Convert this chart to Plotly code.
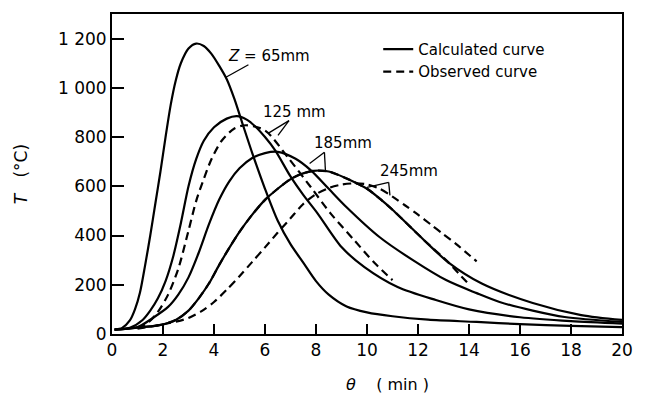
import plotly.graph_objects as go

# ---- data ----
z65_x = [0.1, 0.4, 0.7, 0.9, 1.1, 1.3, 1.5, 1.7, 1.9, 2.1, 2.3, 2.5, 2.7, 3.0, 3.3, 3.6, 3.9, 4.2, 4.5, 4.8, 5.1, 5.5, 6.0, 6.5, 7.0, 7.5, 8.0, 8.5, 9.2, 10.0, 11.0, 12.4, 14.3, 16.0, 18.0, 20.0]
z65_y = [18, 25, 55, 100, 170, 280, 400, 530, 660, 800, 930, 1030, 1100, 1160, 1180, 1170, 1138, 1090, 1035, 955, 860, 735, 590, 460, 365, 290, 215, 160, 112, 88, 72, 58, 49, 40, 33, 28]

c125_x = [0.1, 0.7, 1.2, 1.5, 1.8, 2.1, 2.4, 2.7, 3.0, 3.3, 3.6, 4.0, 4.5, 4.9, 5.3, 5.6, 6.0, 6.4, 7.0, 7.5, 8.06, 9.0, 9.9, 11.2, 12.7, 14.0, 16.0, 18.0, 20.0]
c125_y = [18, 25, 57, 95, 145, 215, 315, 450, 600, 710, 785, 840, 875, 885, 870, 845, 800, 746, 640, 565, 490, 353, 272, 191, 138, 100, 68, 52, 42]

o125_x = [1.0, 1.4, 1.8, 2.2, 2.6, 3.0, 3.3, 3.6, 3.9, 4.3, 4.8, 5.25, 6.0, 6.9, 7.8, 8.57, 9.5, 10.3, 11.0]
o125_y = [25, 45, 90, 160, 265, 420, 540, 630, 710, 785, 835, 848, 827, 717, 596, 490, 381, 288, 219]

c185_x = [0.1, 1.0, 1.6, 2.2, 2.6, 3.0, 3.4, 3.8, 4.2, 4.6, 5.0, 5.5, 6.0, 6.5, 7.2, 7.8, 8.5, 9.2, 10.5, 11.8, 13.1, 14.3, 15.2, 16.5, 17.75, 20.0]
c185_y = [18, 28, 65, 110, 160, 230, 330, 445, 545, 620, 673, 715, 735, 740, 712, 665, 590, 515, 393, 300, 219, 166, 130, 95, 69, 49]

c245_x = [0.1, 1.2, 1.86, 2.5, 3.0, 3.4, 3.8, 4.2, 4.6, 5.0, 5.5, 6.0, 6.5, 6.9, 7.3, 7.9, 8.5, 9.2, 10.0, 10.5, 11.0, 11.5, 12.2, 13.2, 14.5, 16.5, 18.4, 20.0]
c245_y = [18, 28, 36, 57, 95, 145, 205, 280, 350, 415, 485, 545, 590, 622, 645, 663, 660, 632, 590, 550, 505, 455, 385, 290, 205, 126, 77, 57]

o185_x = [1.2, 1.86, 2.5, 3.0, 3.4, 3.8, 4.2, 4.6, 5.0, 5.5, 6.0, 6.5, 6.9, 7.3, 7.9, 8.5, 9.2, 10.0, 10.5, 11.0, 11.5, 12.2, 13.2, 13.6, 13.95]
o185_y = [28, 36, 57, 95, 145, 205, 280, 350, 415, 485, 545, 590, 622, 645, 663, 660, 632, 590, 550, 505, 455, 385, 290, 245, 207]

o245_x = [1.0, 1.86, 2.5, 3.0, 3.5, 4.0, 4.5, 5.0, 5.5, 6.0, 6.5, 7.0, 7.5, 8.0, 8.5, 9.0, 9.5, 10.0, 10.5, 11.0, 11.5, 12.0, 12.5, 13.0, 13.5, 14.3]
o245_y = [22, 36, 50, 65, 92, 130, 180, 235, 293, 352, 412, 470, 528, 568, 593, 607, 612, 608, 590, 558, 522, 485, 445, 405, 365, 295]

x_ticks = [0, 2, 4, 6, 8, 10, 12, 14, 16, 18, 20]
y_ticks = [0, 200, 400, 600, 800, 1000, 1200]
y_tick_text = ["0", "200", "400", "600", "800", "1 000", "1 200"]

# label positions (data coords) and leader lines
labels = [
    ("<i>Z</i> = 65mm", 6.15, 1131),
    ("125 mm", 7.15, 900),
    ("185mm", 9.05, 774),
    ("245mm", 11.65, 661),
]
leaders = [
    ((5.35, 1094), (4.45, 1042)),
    ((6.94, 867), (6.12, 815)),
    ((6.94, 867), (6.51, 807)),
    ((8.33, 738), (7.75, 693)),
    ((8.33, 738), (8.37, 665)),
    ((10.85, 616), (10.0, 596)),
    ((10.85, 616), (10.9, 563)),
]

FONT = "DejaVu Sans"
fig = go.Figure()

solid = dict(color="black", width=2.2)
dashed = dict(color="black", width=2.2, dash="8px,5px")
SM = 0.8

fig.add_trace(go.Scatter(x=z65_x, y=z65_y, mode="lines", line=dict(**solid, shape="spline", smoothing=SM),
                         name="Calculated curve", legendgroup="c", showlegend=True))
fig.add_trace(go.Scatter(x=o125_x, y=o125_y, mode="lines", line=dict(**dashed, shape="spline", smoothing=SM),
                         name="Observed curve", legendgroup="o", showlegend=True))
for xs, ys in [(c125_x, c125_y), (c185_x, c185_y), (c245_x, c245_y)]:
    fig.add_trace(go.Scatter(x=xs, y=ys, mode="lines", line=dict(**solid, shape="spline", smoothing=SM),
                             legendgroup="c", showlegend=False))
for xs, ys in [(o185_x, o185_y), (o245_x, o245_y)]:
    fig.add_trace(go.Scatter(x=xs, y=ys, mode="lines", line=dict(**dashed, shape="spline", smoothing=SM),
                             legendgroup="o", showlegend=False))

for (x0, y0), (x1, y1) in leaders:
    fig.add_shape(type="line", x0=x0, y0=y0, x1=x1, y1=y1, xref="x", yref="y",
                  line=dict(color="black", width=1.3))

for txt, x, y in labels:
    fig.add_annotation(x=x, y=y, text=txt, showarrow=False, xref="x", yref="y",
                       font=dict(family=FONT, size=15, color="black"))

fig.add_annotation(x=-0.178, y=0.5, xref="paper", yref="paper", text="<i>T</i>   (°C)",
                   textangle=-90, showarrow=False, xanchor="center", yanchor="middle",
                   font=dict(family=FONT, size=17, color="black"))
fig.add_annotation(x=0.54, y=-0.159, xref="paper", yref="paper", text="<i>θ</i>    ( min )",
                   showarrow=False, xanchor="center", yanchor="middle",
                   font=dict(family=FONT, size=16, color="black"))

fig.update_layout(
    width=645, height=399,
    margin=dict(l=112, r=17, t=13, b=65),
    paper_bgcolor="white", plot_bgcolor="white",
    font=dict(family=FONT, size=17, color="black"),
    legend=dict(x=0.522, y=0.941, xanchor="left", yanchor="top", bgcolor="rgba(0,0,0,0)",
                font=dict(family=FONT, size=15, color="black"), tracegroupgap=0),
)
fig.update_xaxes(range=[0, 20], tickvals=x_ticks, ticks="inside", ticklen=10, tickwidth=1.5,
                 tickcolor="black", showline=True, linecolor="black", linewidth=2, mirror=True,
                 showgrid=False, zeroline=False)
fig.update_yaxes(range=[0, 1300], tickvals=y_ticks, ticktext=y_tick_text, ticks="inside",
                 ticklen=12, tickwidth=1.5, tickcolor="black", showline=True, linecolor="black",
                 linewidth=2, mirror=True, showgrid=False, zeroline=False)

fig.write_html("out.html")
